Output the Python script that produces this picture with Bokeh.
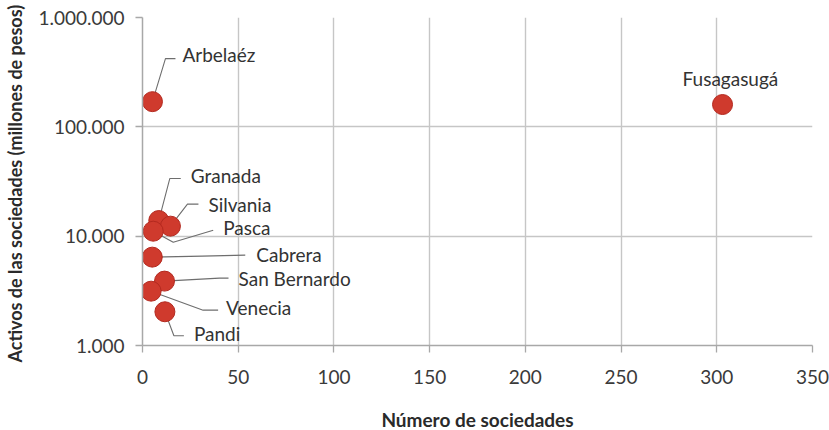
import numpy as np
from bokeh.plotting import figure
from bokeh.models import ColumnDataSource, FixedTicker
from bokeh.embed import file_html
from bokeh.resources import INLINE
from bokeh.core.properties import value

# ---- data ----
municipios = ["Arbelaéz", "Fusagasugá", "Granada", "Silvania", "Pasca",
              "Cabrera", "San Bernardo", "Venecia", "Pandi"]
num_sociedades = [5.2, 303, 8.5, 14.6, 5.6, 5.1, 11.5, 4.5, 11.7]
activos = [170000, 160000, 13900, 12350, 11100, 6430, 3880, 3140, 2035]

x_ticks = [0, 50, 100, 150, 200, 250, 300, 350]
y_ticks = [1000, 10000, 100000, 1000000]
y_tick_labels = ["1.000", "10.000", "100.000", "1.000.000"]

# ---- label styling (pixel offsets from point: text anchor, leader elbow, leader end) ----
lab_dx = [30, -40, 32, 38, 70, 104, 74, 75, 29]
lab_dy = [-47, -26, -45, -22, -4, -3, -3, 16, 22]
elb_dx = [13, 0, 11, 17, 20, 50, 55, 52, 9]
elb_dy = [-43, 0, -42, -22, 11, -1, -3, 19, 24]
end_dx = [23, 0, 22, 28, 60, 93, 64, 67, 19]
end_dy = [-43, 0, -42, -22, -1, -2, -3, 19, 24]
has_leader = [True, False, True, True, True, True, True, True, True]

FONT = "Lato"
XMIN, XMAX = 0, 350
YMIN, YMAX = 1000, 1000000
FW, FH = 670, 328

px_x = (XMAX - XMIN) / FW
px_dec = (np.log10(YMAX) - np.log10(YMIN)) / FH


def to_data(x, y, dx, dy):
    return x + dx * px_x, 10 ** (np.log10(y) - dy * px_dec)


p = figure(frame_width=FW, frame_height=FH, x_range=(XMIN, XMAX), y_range=(YMIN, YMAX),
           y_axis_type="log", output_backend="svg", toolbar_location=None,
           min_border_left=142, min_border_top=17, min_border_right=17, min_border_bottom=83)
p.outline_line_color = None
p.background_fill_color = "white"

# grid
p.xgrid.ticker = FixedTicker(ticks=x_ticks)
p.ygrid.ticker = FixedTicker(ticks=y_ticks)
for g in (p.xgrid, p.ygrid):
    g.grid_line_color = "#c6c6c6"
    g.grid_line_width = 1.4

# axes
p.xaxis.ticker = FixedTicker(ticks=x_ticks)
p.yaxis.ticker = FixedTicker(ticks=y_ticks)
p.yaxis.major_label_overrides = {float(t): l for t, l in zip(y_ticks, y_tick_labels)}
for ax in (p.xaxis, p.yaxis):
    ax.axis_line_color = "#a8a8a8"
    ax.axis_line_width = 1.5
    ax.major_tick_line_color = "#a8a8a8"
    ax.major_tick_line_width = 1.3
    ax.major_tick_out = 7
    ax.major_tick_in = 0
    ax.minor_tick_line_color = None
    ax.major_label_text_font = FONT
    ax.major_label_text_font_size = "19px"
    ax.major_label_text_color = "#3a3a3a"
    ax.axis_label_text_font = FONT
    ax.axis_label_text_font_size = "18px"
    ax.axis_label_text_font_style = "bold"
    ax.axis_label_text_color = "#2a2a2a"
p.xaxis.axis_label = "Número de sociedades"
p.yaxis.axis_label = "Activos de las  sociedades (millones de pesos)"
p.xaxis.axis_label_text_font_size = "19px"
p.xaxis.major_label_standoff = 17
p.xaxis.axis_label_standoff = 21
p.yaxis.major_label_standoff = 11
p.yaxis.axis_label_standoff = 9

# leaders
xs, ys = [], []
tx, ty = [], []
for i in range(len(municipios)):
    x0, y0 = num_sociedades[i], activos[i]
    ax_, ay_ = to_data(x0, y0, lab_dx[i], lab_dy[i])
    tx.append(ax_)
    ty.append(ay_)
    if has_leader[i]:
        ex, ey = to_data(x0, y0, elb_dx[i], elb_dy[i])
        fx, fy = to_data(x0, y0, end_dx[i], end_dy[i])
        xs.append([x0, ex, fx])
        ys.append([y0, ey, fy])

p.multi_line(xs=xs, ys=ys, line_color="#6e6e6e", line_width=1.1)

src = ColumnDataSource(dict(x=num_sociedades, y=activos, name=municipios))
p.scatter("x", "y", source=src, size=20, fill_color="#cf3a2d", line_color="#b3291f",
          line_width=1)

lsrc = ColumnDataSource(dict(x=tx, y=ty, text=municipios))
p.text("x", "y", text="text", source=lsrc, text_font=value(FONT), text_font_size="19px",
       text_color="#333333", text_baseline="middle", text_align="left")

open("out.html", "w").write(file_html(p, INLINE))
